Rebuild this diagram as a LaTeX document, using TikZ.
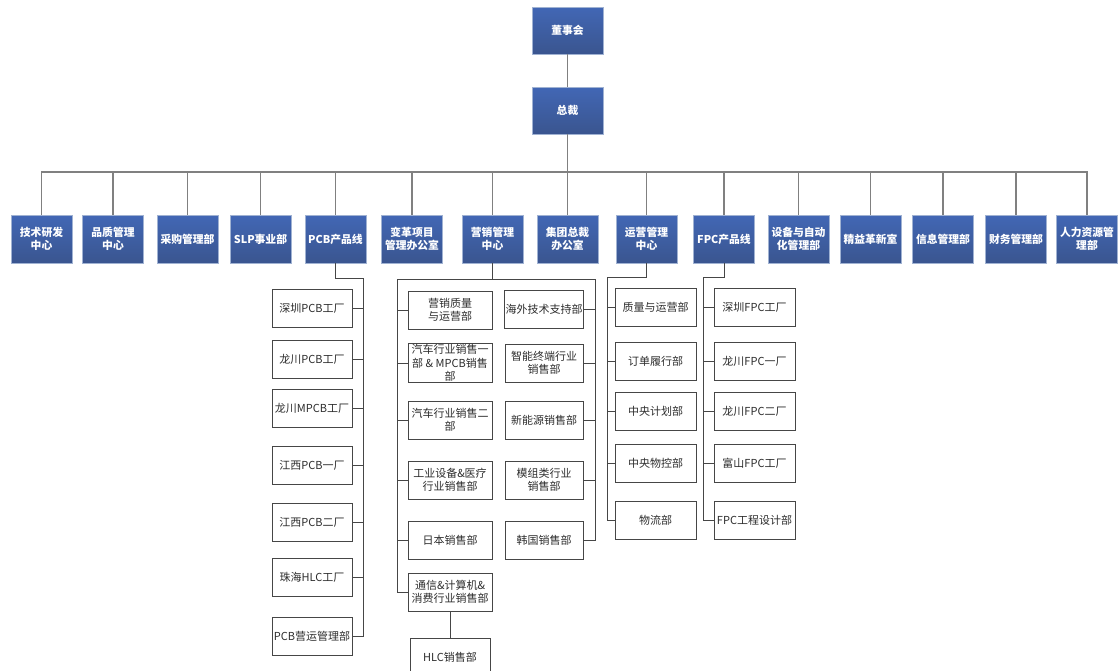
\documentclass[tikz,border=0pt]{standalone}
\usepackage{fontspec}
\setmainfont{Noto Sans CJK SC}
\usepackage{tikz}
\definecolor{boxTop}{RGB}{66,103,181}
\definecolor{boxBottom}{RGB}{58,85,143}
\definecolor{boxBorder}{RGB}{160,178,210}
\definecolor{topLineColor}{RGB}{128,128,128}
\definecolor{subLineColor}{RGB}{70,70,70}
\definecolor{subTextColor}{RGB}{45,45,45}
\tikzstyle{orgChart} = [x = 1pt, y = -1pt]
\tikzstyle{topBoxStyle} = [draw=boxBorder, top color=boxTop, bottom color=boxBottom, text=white, font=\bfseries\fontsize{10.8}{12.8}\selectfont, align=center, minimum width=61, minimum height=48, inner sep=1pt]
\tikzstyle{subBoxStyle} = [draw=subLineColor, fill=white, text=subTextColor, font=\fontsize{11}{13.5}\selectfont, align=center, minimum height=38, inner sep=1pt, line width=.9pt]
\tikzstyle{topLine} = [color=topLineColor, line width=1.1pt]
\tikzstyle{subLine} = [color=subLineColor, line width=.9pt]
\newcommand{\topBox}[3]{\node [topBoxStyle] (#1) at (#2, 239) {#3};}
\newcommand{\subBox}[5]{\node [subBoxStyle, minimum width=#4] (#1) at (#2, #3) {#5};}
\begin{document}
\begin{tikzpicture}[orgChart]
  \useasboundingbox (0,0) rectangle (1118,670);
  \clip (0,0) rectangle (1118,670);
  \node [topBoxStyle, minimum width=71, minimum height=47] (board) at (567.5, 30.5) {董事会};
  \node [topBoxStyle, minimum width=71, minimum height=47] (president) at (567.5, 110.5) {总裁};
  \topBox{rdCenter}{41.5}{技术研发\\中心}
  \topBox{qualityCenter}{113}{品质管理\\中心}
  \topBox{purchaseDept}{187.5}{采购管理部}
  \topBox{slpDept}{260.5}{SLP事业部}
  \topBox{pcbLine}{335.5}{PCB产品线}
  \topBox{reformOffice}{412}{变革项目\\管理办公室}
  \topBox{salesCenter}{492.5}{营销管理\\中心}
  \topBox{groupOffice}{567.5}{集团总裁\\办公室}
  \topBox{opsCenter}{646.5}{运营管理\\中心}
  \topBox{fpcLine}{724}{FPC产品线}
  \topBox{equipDept}{798.5}{设备与自动\\化管理部}
  \topBox{leanOffice}{870.5}{精益革新室}
  \topBox{infoDept}{943}{信息管理部}
  \topBox{financeDept}{1016}{财务管理部}
  \topBox{hrDept}{1087}{人力资源管\\理部}

  \coordinate (topBus) at (567.5, 172);
  \draw [topLine] (board) -- (president);
  \foreach \dept in {rdCenter, qualityCenter, purchaseDept, slpDept, pcbLine, reformOffice, salesCenter, groupOffice, opsCenter, fpcLine, equipDept, leanOffice, infoDept, financeDept, hrDept} {
    \draw [topLine] (president.south) |- (topBus -| \dept.north) -- (\dept.north);
  }

  \subBox{szPcb}{312}{308}{80}{深圳PCB工厂}
  \subBox{lcPcb}{312}{359}{80}{龙川PCB工厂}
  \subBox{lcMpcb}{312}{408}{80}{龙川MPCB工厂}
  \subBox{jxPcbOne}{312}{465}{80}{江西PCB一厂}
  \subBox{jxPcbTwo}{312}{522}{80}{江西PCB二厂}
  \subBox{zhHlc}{312}{577}{80}{珠海HLC工厂}
  \subBox{pcbOps}{312}{636}{80}{PCB营运管理部}
  \coordinate (pcbBus) at (363, 278);
  \draw [subLine] (pcbLine.south) |- (pcbBus) |- (pcbOps.east);
  \foreach \unit in {szPcb, lcPcb, lcMpcb, jxPcbOne, jxPcbTwo, zhHlc} {
    \draw [subLine] (\unit.east) -- (\unit.east -| pcbBus);
  }

  \subBox{salesQuality}{450}{310}{84}{营销质量\\与运营部}
  \subBox{autoOne}{450}{363}{84}{汽车行业销售一\\部 \& MPCB销售\\部}
  \subBox{autoTwo}{450}{420}{84}{汽车行业销售二\\部}
  \subBox{industrySales}{450}{480}{84}{工业设备\&医疗\\行业销售部}
  \subBox{japanSales}{450}{540}{84}{日本销售部}
  \subBox{telecomSales}{450}{592}{84}{通信\&计算机\&\\消费行业销售部}
  \subBox{hlcSales}{450}{657}{80}{HLC销售部}
  \subBox{overseasSupport}{544}{309}{78}{海外技术支持部}
  \subBox{smartSales}{544}{363}{78}{智能终端行业\\销售部}
  \subBox{energySales}{544}{420}{78}{新能源销售部}
  \subBox{moduleSales}{544}{480}{78}{模组类行业\\销售部}
  \subBox{koreaSales}{544}{540}{78}{韩国销售部}
  \coordinate (salesLeft) at (397, 279);
  \coordinate (salesRight) at (595, 279);
  \draw [subLine] (salesCenter.south) -- (salesCenter.south |- salesLeft);
  \draw [subLine] (telecomSales.west) -| (salesLeft) -- (salesRight) |- (koreaSales.east);
  \foreach \unit in {salesQuality, autoOne, autoTwo, industrySales, japanSales} {
    \draw [subLine] (\unit.west) -- (\unit.west -| salesLeft);
  }
  \foreach \unit in {overseasSupport, smartSales, energySales, moduleSales} {
    \draw [subLine] (\unit.east) -- (\unit.east -| salesRight);
  }
  \draw [subLine] (telecomSales) -- (hlcSales);

  \subBox{qualityOps}{655.5}{307}{81}{质量与运营部}
  \subBox{orderDept}{655.5}{361}{81}{订单履行部}
  \subBox{planDept}{655.5}{411}{81}{中央计划部}
  \subBox{materialDept}{655.5}{463}{81}{中央物控部}
  \subBox{logisticsDept}{655.5}{520}{81}{物流部}
  \coordinate (opsBus) at (607, 277);
  \draw [subLine] (opsCenter.south) |- (opsBus) |- (logisticsDept.west);
  \foreach \unit in {qualityOps, orderDept, planDept, materialDept} {
    \draw [subLine] (\unit.west) -- (\unit.west -| opsBus);
  }

  \subBox{szFpc}{754.5}{307}{81}{深圳FPC工厂}
  \subBox{lcFpcOne}{754.5}{361}{81}{龙川FPC一厂}
  \subBox{lcFpcTwo}{754.5}{411}{81}{龙川FPC二厂}
  \subBox{toyamaFpc}{754.5}{463}{81}{富山FPC工厂}
  \subBox{fpcDesign}{754.5}{520}{81}{FPC工程设计部}
  \coordinate (fpcBus) at (703, 277);
  \draw [subLine] (fpcLine.south) |- (fpcBus) |- (fpcDesign.west);
  \foreach \unit in {szFpc, lcFpcOne, lcFpcTwo, toyamaFpc} {
    \draw [subLine] (\unit.west) -- (\unit.west -| fpcBus);
  }
\end{tikzpicture}
\end{document}
